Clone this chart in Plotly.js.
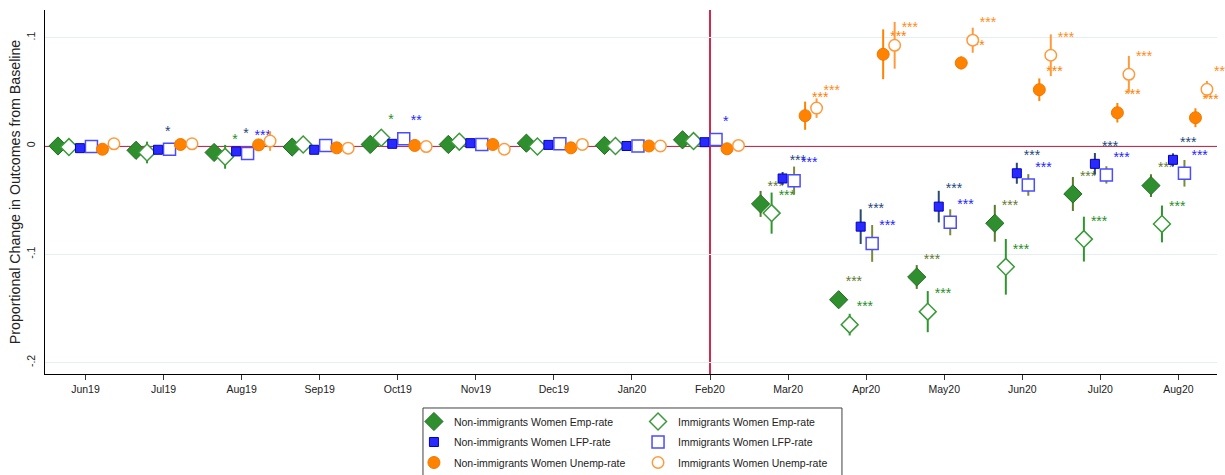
<!DOCTYPE html>
<html>
<head>
<meta charset="utf-8">
<script src="https://cdn.plot.ly/plotly-3.0.1.min.js"></script>
<style>
  html, body { margin: 0; padding: 0; background: #ffffff; }
  #chart { width: 1225px; height: 475px; }
</style>
</head>
<body>
<div id="chart"></div>
<script>
// Months of the event-study window; Feb20 is the reference month.
const months = ['Jun19', 'Jul19', 'Aug19', 'Sep19', 'Oct19', 'Nov19', 'Dec19', 'Jan20',
                'Feb20', 'Mar20', 'Apr20', 'May20', 'Jun20', 'Jul20', 'Aug20'];

// Proportional change relative to baseline, with 95% CI half-widths and significance stars.
const niEmp     = [0.000, -0.004, -0.006, -0.001, 0.0014, 0.0014, 0.0026, 0.0005, 0.0057, -0.0535, -0.142, -0.121, -0.0714, -0.0443, -0.0366];
const niEmpCI   = [0.002, 0.003, 0.003, 0.002, 0.002, 0.002, 0.002, 0.000, 0.003, 0.012, 0.006, 0.011, 0.017, 0.0157, 0.0105];
const niEmpSig  = ['', '', '', '', '', '', '', '', '', '***', '***', '***', '***', '***', '***'];

const imEmp     = [-0.001, -0.006, -0.010, 0.0014, 0.0076, 0.004, -0.0005, 0.000, 0.0045, -0.062, -0.165, -0.153, -0.1116, -0.086, -0.072];
const imEmpCI   = [0.003, 0.010, 0.011, 0.003, 0.005, 0.003, 0.003, 0.000, 0.003, 0.019, 0.010, 0.019, 0.0257, 0.0207, 0.017];
const imEmpSig  = ['', '', '*', '', '*', '', '', '', '', '***', '***', '***', '***', '***', '***'];

const niLfp     = [-0.002, -0.0035, -0.005, -0.0035, 0.002, 0.0026, 0.001, 0.000, 0.0035, -0.030, -0.0745, -0.056, -0.0252, -0.0165, -0.0128];
const niLfpCI   = [0.003, 0.003, 0.003, 0.002, 0.002, 0.002, 0.002, 0.000, 0.002, 0.006, 0.016, 0.0146, 0.0097, 0.010, 0.006];
const niLfpSig  = ['', '*', '*', '', '', '', '', '', '', '***', '***', '***', '***', '***', '***'];

const imLfp     = [-0.0005, -0.003, -0.007, 0.0005, 0.0067, 0.0014, 0.002, 0.000, 0.006, -0.032, -0.090, -0.0705, -0.036, -0.0267, -0.0252];
const imLfpCI   = [0.002, 0.003, 0.003, 0.002, 0.003, 0.002, 0.002, 0.000, 0.003, 0.013, 0.017, 0.012, 0.010, 0.008, 0.0123];
const imLfpSig  = ['', '', '***', '', '**', '', '', '', '*', '***', '***', '***', '***', '***', '***'];

const niUnemp    = [-0.003, 0.0014, 0.001, -0.0017, 0.0005, 0.0014, -0.0017, 0.000, -0.0026, 0.028, 0.0847, 0.0767, 0.052, 0.0307, 0.0261];
const niUnempCI  = [0.003, 0.002, 0.002, 0.002, 0.002, 0.002, 0.002, 0.000, 0.002, 0.013, 0.023, 0.006, 0.0104, 0.009, 0.0087];
const niUnempSig = ['', '', '', '', '', '', '', '', '', '***', '***', '***', '***', '***', '***'];

const imUnemp    = [0.002, 0.002, 0.0045, -0.002, -0.0005, -0.003, 0.0014, 0.000, 0.0005, 0.035, 0.093, 0.0977, 0.0838, 0.0662, 0.0523];
const imUnempCI  = [0.002, 0.002, 0.009, 0.002, 0.002, 0.002, 0.002, 0.000, 0.002, 0.009, 0.0216, 0.0116, 0.0193, 0.017, 0.0077];
const imUnempSig = ['', '', '', '', '', '', '', '', '', '***', '***', '***', '***', '***', '***'];

const yTickVals = [-0.2, -0.1, 0, 0.1];
const yTickText = ['-.2', '-.1', '0', '.1'];

// Styling for each series: horizontal dodge within a month, marker look, CI and star colours.
// Non-immigrant series go in the left legend column, immigrant series in the right one.
const series = [
  { name: 'Non-immigrants Women Emp-rate',   y: niEmp,   ci: niEmpCI,   sig: niEmpSig,   dodge: -0.352, legend: 'legend',
    symbol: 'diamond', size: 14, fill: '#2f8f2f', edge: '#1e6e1e', edgeW: 1,   ciColor: '#5a7a2c', starColor: '#5f7a30' },
  { name: 'Immigrants Women Emp-rate',       y: imEmp,   ci: imEmpCI,   sig: imEmpSig,   dodge: -0.211, legend: 'legend2',
    symbol: 'diamond', size: 13, fill: '#ffffff', edge: '#3a9a3a', edgeW: 1.5, ciColor: '#2e962e', starColor: '#1f8f1f' },
  { name: 'Non-immigrants Women LFP-rate',   y: niLfp,   ci: niLfpCI,   sig: niLfpSig,   dodge: -0.070, legend: 'legend',
    symbol: 'square',  size: 9,  fill: '#2a2aff', edge: '#0000c8', edgeW: 1,   ciColor: '#2a4a6e', starColor: '#24477a' },
  { name: 'Immigrants Women LFP-rate',       y: imLfp,   ci: imLfpCI,   sig: imLfpSig,   dodge: 0.077, legend: 'legend2',
    symbol: 'square',  size: 12, fill: '#ffffff', edge: '#4b4bff', edgeW: 1.5, ciColor: '#7a8a3c', starColor: '#2525ff' },
  { name: 'Non-immigrants Women Unemp-rate', y: niUnemp, ci: niUnempCI, sig: niUnempSig, dodge: 0.218, legend: 'legend',
    symbol: 'circle',  size: 12, fill: '#ff8200', edge: '#f07800', edgeW: 1,   ciColor: '#ff8200', starColor: '#ff8000' },
  { name: 'Immigrants Women Unemp-rate',     y: imUnemp, ci: imUnempCI, sig: imUnempSig, dodge: 0.365, legend: 'legend2',
    symbol: 'circle',  size: 11.5, fill: '#ffffff', edge: '#ff9a3c', edgeW: 1.5, ciColor: '#ff9a3c', starColor: '#ff8c1a' }
];

// Stars sit up and to the right of each estimate.
const STAR_DX = 0.09;
const STAR_DY = 0.0155;

const traces = [];
series.forEach((s, k) => {
  const xs = months.map((m, i) => i + s.dodge);
  traces.push({
    type: 'scatter', mode: 'markers', name: s.name, legend: s.legend, legendgroup: 'g' + k,
    x: xs, y: s.y,
    marker: { symbol: s.symbol, size: s.size, color: s.fill, line: { color: s.edge, width: s.edgeW } },
    error_y: { type: 'data', array: s.ci, visible: true, color: s.ciColor, thickness: 2, width: 0 },
    hovertemplate: '%{y:.3f}<extra>' + s.name + '</extra>'
  });
  traces.push({
    type: 'scatter', mode: 'text', showlegend: false, hoverinfo: 'skip', cliponaxis: false,
    x: xs.map(v => v + STAR_DX), y: s.y.map(v => v + STAR_DY),
    text: s.sig, textposition: 'middle right',
    textfont: { family: 'Liberation Sans, Arial, sans-serif', size: 14, color: s.starColor }
  });
});

const FONT = 'Liberation Sans, Arial, sans-serif';
const baseFont = { family: FONT, size: 10.5, color: '#222222' };

const legendCommon = {
  orientation: 'v', xanchor: 'left', yanchor: 'top', y: -0.0907,
  bgcolor: 'rgba(0,0,0,0)', borderwidth: 0, tracegroupgap: 1.5,
  font: { family: FONT, size: 10.5, color: '#222222' },
  itemclick: false, itemdoubleclick: false
};

const layout = {
  width: 1225, height: 475,
  margin: { l: 45, r: 8, t: 10, b: 101, autoexpand: false },
  paper_bgcolor: '#ffffff', plot_bgcolor: '#ffffff',
  font: baseFont,
  showlegend: true,
  xaxis: {
    range: [-0.518, 14.494],
    tickmode: 'array', tickvals: months.map((m, i) => i), ticktext: months,
    ticks: 'outside', ticklen: 5, tickwidth: 1, tickcolor: '#333333',
    showgrid: false, zeroline: false,
    showline: true, linecolor: '#000000', linewidth: 1,
    tickfont: baseFont
  },
  yaxis: {
    range: [-0.2106, 0.1256],
    tickmode: 'array', tickvals: yTickVals, ticktext: yTickText,
    tickangle: -90, ticks: '', ticklabelstandoff: 5,
    showgrid: true, gridcolor: '#e6eef0', gridwidth: 1,
    zeroline: false,
    showline: true, linecolor: '#000000', linewidth: 1,
    tickfont: baseFont,
    title: { text: 'Proportional Change in Outcomes from Baseline',
             font: { family: FONT, size: 14.2, color: '#222222' }, standoff: 0 }
  },
  shapes: [
    { type: 'line', xref: 'paper', yref: 'y', x0: 0, x1: 1, y0: 0, y1: 0,
      line: { color: '#cf2a4c', width: 2 }, layer: 'below' },
    { type: 'line', xref: 'x', yref: 'paper', x0: 8, x1: 8, y0: 0, y1: 1,
      line: { color: '#cf2a4c', width: 2 }, layer: 'below' },
    // frame around the two legend columns
    { type: 'rect', xref: 'paper', yref: 'paper', x0: 0.3225, x1: 0.680, y0: -0.0934, y1: -0.33,
      line: { color: '#404040', width: 1 }, fillcolor: 'rgba(0,0,0,0)', layer: 'above' }
  ],
  legend:  Object.assign({}, legendCommon, { x: 0.3148 }),
  legend2: Object.assign({}, legendCommon, { x: 0.506 }),
  hovermode: 'closest'
};

Plotly.newPlot('chart', traces, layout, { displayModeBar: false, responsive: false });
</script>
</body>
</html>
